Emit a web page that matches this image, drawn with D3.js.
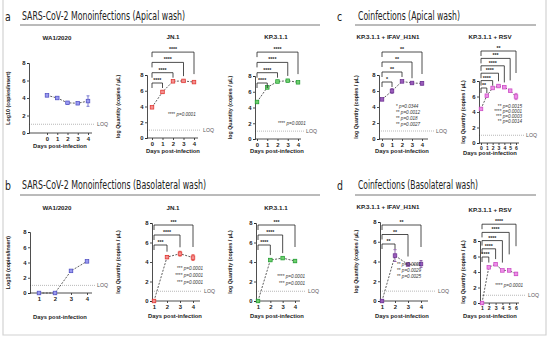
<!DOCTYPE html>
<html>
<head>
<meta charset="utf-8">
<script src="https://cdn.jsdelivr.net/npm/d3@7"></script>
<style>
  body { margin: 0; background: #fff; }
  svg { display: block; }
  .tick text { font-family: "Liberation Sans", Arial, sans-serif; font-weight: bold; fill: #222; }
</style>
</head>
<body>
<div id="chart"></div>
<script>
// ---- data ----
const daysA = [0, 1, 2, 3, 4];
const daysA6 = [0, 1, 2, 3, 4, 5, 6];
const daysB = [1, 2, 3, 4];
const daysB6 = [1, 2, 3, 4, 5, 6];
const yTicks = [0, 2, 4, 6, 8];
const loqValue = 1;

const wa1Apical = [4.3, 4.0, 3.45, 3.4, 3.65];
const wa1ApicalErr = [0.1, 0.1, 0.15, 0.1, 0.6];
const jn1Apical = [3.9, 5.85, 7.2, 7.25, 7.1];
const jn1ApicalErr = [0.1, 0.15, 0.1, 0.1, 0.1];
const kpApical = [4.7, 6.55, 7.3, 7.4, 7.2];
const kpApicalErr = [0.1, 0.1, 0.1, 0.1, 0.1];
const iavApical = [4.95, 6.0, 7.2, 7.0, 6.95];
const iavApicalErr = [0.1, 0.3, 0.1, 0.1, 0.2];
const rsvApical = [4.4, 6.1, 7.1, 7.35, 7.2, 6.75, 6.0];
const rsvApicalErr = [0.1, 0.15, 0.1, 0.1, 0.1, 0.15, 0.4];

const wa1Baso = [0, 0, 2.9, 4.15];
const wa1BasoErr = [0, 0, 0.1, 0.1];
const jn1Baso = [0, 4.5, 4.85, 4.45];
const jn1BasoErr = [0.1, 0.15, 0.25, 0.3];
const kpBaso = [0, 4.2, 4.4, 4.1];
const kpBasoErr = [0.1, 0.1, 0.1, 0.15];
const iavBaso = [0, 4.6, 3.7, 3.75];
const iavBasoErr = [0.1, 0.6, 0.1, 0.35];
const rsvBaso = [0, 4.6, 5.0, 4.2, 4.2, 3.75];
const rsvBasoErr = [0.1, 0.1, 0.15, 0.1, 0.1, 0.2];

// significance vs first day (one per later day)
const jn1ApicalSig = ["****", "****", "****", "****"];
const kpApicalSig = ["****", "****", "****", "****"];
const iavApicalSig = ["*", "**", "**", "**"];
const rsvApicalSig = ["**", "****", "****", "****", "***", "**"];
const jn1BasoSig = ["***", "****", "***"];
const kpBasoSig = ["****", "****", "***"];
const iavBasoSig = ["**", "**", "**"];
const rsvBasoSig = ["****", "****", "****", "****", "****"];

const jn1ApicalP = ["**** p=0.0001"];
const kpApicalP = ["**** p=0.0001"];
const iavApicalP = ["* p=0.0344", "** p=0.0012", "** p=0.018", "** p=0.0027"];
const rsvApicalP = ["** p=0.0015", "**** p=0.0001", "*** p=0.0003", "** p=0.0014"];
const jn1BasoP = ["*** p=0.0001", "**** p=0.0001", "*** p=0.0001"];
const kpBasoP = ["**** p=0.0001", "*** p=0.0001"];
const iavBasoP = ["** p=0.0001", "** p=0.0029", "** p=0.0025"];
const rsvBasoP = ["**** p=0.0001"];

const colors = {
  wa1: {fill: "#9a9af0", stroke: "#4b4bc0"},
  jn1: {fill: "#f39090", stroke: "#e0302a"},
  kp:  {fill: "#6fcf6f", stroke: "#1f9a2f"},
  iav: {fill: "#9a5cbc", stroke: "#6a2e8e"},
  rsv: {fill: "#ee8ee8", stroke: "#c846c0"}
};

const yLabWA = "Log10 (copies/insert)";
const yLabQ = "log Quantity (copies / \u00b5L)";

const panels = [
  {title: "WA1/2020", days: daysA, vals: wa1Apical, err: wa1ApicalErr, c: colors.wa1, ylab: yLabWA,
   ax: 29, axEnd: 92, y0: 133, y8: 63, xr: [47, 88], tx: 57, ty: 40, xlx: 60, xly: 148, ylx: 10, loqEnd: 95, loqX: 97,
   sig: [], p: []},
  {title: "JN.1", days: daysA, vals: jn1Apical, err: jn1ApicalErr, c: colors.jn1, ylab: yLabQ,
   ax: 147, axEnd: 198, y0: 138, y8: 75, xr: [152, 194], tx: 173, ty: 39, xlx: 173, xly: 153, ylx: 120, loqEnd: 201, loqX: 203,
   sig: jn1ApicalSig, bBot: 83, bStep: 10.3, p: jn1ApicalP, px: 168, py: 116, pdy: 6, pAnchor: "start"},
  {title: "KP.3.1.1", days: daysA, vals: kpApical, err: kpApicalErr, c: colors.kp, ylab: yLabQ,
   ax: 255, axEnd: 301, y0: 139, y8: 76, xr: [257, 298], tx: 276, ty: 39, xlx: 277, xly: 153, ylx: 232, loqEnd: 304, loqX: 306,
   sig: kpApicalSig, bBot: 83, bStep: 10.3, p: kpApicalP, px: 278, py: 125, pdy: 6, pAnchor: "start"},
  {title: "KP.3.1.1 + IFAV_H1N1", days: daysA, vals: iavApical, err: iavApicalErr, c: colors.iav, ylab: yLabQ,
   ax: 379, axEnd: 428, y0: 139, y8: 75, xr: [382, 422], tx: 388, ty: 39, xlx: 402, xly: 153, ylx: 358, loqEnd: 434, loqX: 436,
   sig: iavApicalSig, bBot: 82, bStep: 10, p: iavApicalP, px: 396, py: 108, pdy: 6, pAnchor: "start"},
  {title: "KP.3.1.1 + RSV", days: daysA6, vals: rsvApical, err: rsvApicalErr, c: colors.rsv, ylab: yLabQ,
   ax: 479, axEnd: 519, y0: 143, y8: 81, xr: [481, 516], tx: 490, ty: 39, xlx: 490, xly: 155, ylx: 465, loqEnd: 524, loqX: 526,
   sig: rsvApicalSig, bBot: 88, bStep: 7.4, p: rsvApicalP, px: 522, py: 108, pdy: 5, pAnchor: "end", xFont: 5},

  {title: "WA1/2020", days: daysB, vals: wa1Baso, err: wa1BasoErr, c: colors.wa1, ylab: yLabWA,
   ax: 30, axEnd: 92, y0: 293, y8: 232, xr: [39, 87], tx: 57, ty: 210, xlx: 60, xly: 319, ylx: 10, loqEnd: 95, loqX: 97,
   sig: [], p: []},
  {title: "JN.1", days: daysB, vals: jn1Baso, err: jn1BasoErr, c: colors.jn1, ylab: yLabQ,
   ax: 152, axEnd: 200, y0: 301, y8: 223, xr: [154, 193], tx: 173, ty: 210, xlx: 175, xly: 318, ylx: 120, loqEnd: 202, loqX: 204,
   sig: jn1BasoSig, bBot: 245, bStep: 10, p: jn1BasoP, px: 203, py: 270, pdy: 7, pAnchor: "end"},
  {title: "KP.3.1.1", days: daysB, vals: kpBaso, err: kpBasoErr, c: colors.kp, ylab: yLabQ,
   ax: 256, axEnd: 300, y0: 301, y8: 223, xr: [258, 295], tx: 276, ty: 210, xlx: 277, xly: 318, ylx: 232, loqEnd: 306, loqX: 308,
   sig: kpBasoSig, bBot: 245, bStep: 10, p: kpBasoP, px: 305, py: 278, pdy: 7, pAnchor: "end"},
  {title: "KP.3.1.1 + IFAV_H1N1", days: daysB, vals: iavBaso, err: iavBasoErr, c: colors.iav, ylab: yLabQ,
   ax: 380, axEnd: 428, y0: 301, y8: 222, xr: [382, 421], tx: 388, ty: 209, xlx: 402, xly: 318, ylx: 358, loqEnd: 436, loqX: 438,
   sig: iavBasoSig, bBot: 244, bStep: 9.5, p: iavBasoP, px: 397, py: 266, pdy: 6, pAnchor: "start"},
  {title: "KP.3.1.1 + RSV", days: daysB6, vals: rsvBaso, err: rsvBasoErr, c: colors.rsv, ylab: yLabQ,
   ax: 480, axEnd: 519, y0: 303, y8: 241, xr: [482, 516], tx: 490, ty: 212, xlx: 490, xly: 318, ylx: 465, loqEnd: 526, loqX: 528,
   sig: rsvBasoSig, bBot: 257, bStep: 8.2, p: rsvBasoP, px: 523, py: 287, pdy: 6, pAnchor: "end", xFont: 5.2}
];

const headers = [
  {letter: "a", text: "SARS-CoV-2 Monoinfections (Apical wash)", lx: 5, x: 22, y: 20, w: 163, ulx: [20, 320], uly: 25},
  {letter: "c", text: "Coinfections (Apical wash)", lx: 337, x: 358, y: 20, w: 102, ulx: [355, 536], uly: 25},
  {letter: "b", text: "SARS-CoV-2 Monoinfections (Basolateral wash)", lx: 5, x: 22, y: 189, w: 184, ulx: [20, 320], uly: 195},
  {letter: "d", text: "Coinfections (Basolateral wash)", lx: 337, x: 358, y: 189, w: 120, ulx: [355, 536], uly: 195}
];

const W = 550, H = 343;
const svg = d3.select("#chart").append("svg")
  .attr("width", W).attr("height", H)
  .attr("viewBox", [0, 0, W, H]);

// outer frame
svg.append("path")
  .attr("d", "M3,0 V335 H546 V0")
  .attr("fill", "none").attr("stroke", "#d2d2d2").attr("stroke-width", 1.2);

const narrow = "'DejaVu Sans Condensed', 'Liberation Sans Narrow', 'Roboto', sans-serif";
headers.forEach(h => {
  svg.append("text").attr("x", h.lx).attr("y", h.y + 1)
    .attr("font-family", narrow).attr("font-size", 13).attr("fill", "#222")
    .attr("transform", `translate(${h.lx},0) scale(0.8,1) translate(${-h.lx},0)`)
    .text(h.letter);
  svg.append("text").attr("x", h.x).attr("y", h.y)
    .attr("font-family", narrow).attr("font-size", 11.5).attr("fill", "#222")
    .attr("textLength", h.w).attr("lengthAdjust", "spacingAndGlyphs")
    .text(h.text);
  svg.append("line").attr("x1", h.ulx[0]).attr("x2", h.ulx[1]).attr("y1", h.uly).attr("y2", h.uly)
    .attr("stroke", "#666").attr("stroke-width", 0.9);
});

const sans = "'Liberation Sans', Arial, sans-serif";

panels.forEach(p => {
  const x = d3.scaleLinear().domain([p.days[0], p.days[p.days.length - 1]]).range(p.xr);
  const y = d3.scaleLinear().domain([0, 8]).range([p.y0, p.y8]);
  const g = svg.append("g");

  // title
  g.append("text").attr("x", p.tx).attr("y", p.ty).attr("text-anchor", "middle")
    .attr("font-family", sans).attr("font-weight", "bold").attr("font-size", 6.2).attr("fill", "#222")
    .text(p.title);

  // LOQ
  g.append("line").attr("x1", p.ax).attr("x2", p.loqEnd).attr("y1", y(loqValue)).attr("y2", y(loqValue))
    .attr("stroke", "#999").attr("stroke-width", 0.7).attr("stroke-dasharray", "1,1");
  g.append("text").attr("x", p.loqX).attr("y", y(loqValue) + 1.8)
    .attr("font-family", sans).attr("font-size", 5.2).attr("fill", "#555").text("LOQ");

  // axes
  const yAxis = g.append("g").attr("transform", `translate(${p.ax},0)`)
    .call(d3.axisLeft(y).tickValues(yTicks).tickSize(2).tickPadding(1.5).tickFormat(d3.format("d")));
  yAxis.selectAll("line, path").attr("stroke", "#222").attr("stroke-width", 0.8);
  yAxis.selectAll("text").style("font-size", "5.9px");
  const xAxis = g.append("g").attr("transform", `translate(0,${p.y0})`)
    .call(d3.axisBottom(x).tickValues(p.days).tickSize(2).tickPadding(1.5).tickFormat(d3.format("d")));
  xAxis.select(".domain").remove();
  xAxis.selectAll("line").attr("stroke", "#222").attr("stroke-width", 0.8);
  xAxis.selectAll("text").style("font-size", (p.xFont || 5.9) + "px");
  g.append("line").attr("x1", p.ax).attr("x2", p.axEnd).attr("y1", p.y0).attr("y2", p.y0)
    .attr("stroke", "#222").attr("stroke-width", 0.8);

  // axis labels
  g.append("text").attr("x", p.xlx).attr("y", p.xly).attr("text-anchor", "middle")
    .attr("font-family", sans).attr("font-weight", "bold").attr("font-size", 5.8).attr("fill", "#222")
    .text("Days post-infection");
  g.append("text").attr("transform", `translate(${p.ylx},${(p.y0 + p.y8) / 2}) rotate(-90)`)
    .attr("text-anchor", "middle")
    .attr("font-family", sans).attr("font-weight", "bold").attr("font-size", 5.3).attr("fill", "#222")
    .text(p.ylab);

  // data
  const pts = p.days.map((d, i) => ({d, v: p.vals[i], e: p.err[i]}));
  g.append("path").datum(pts)
    .attr("d", d3.line().x(d => x(d.d)).y(d => y(d.v)))
    .attr("fill", "none").attr("stroke", "#333").attr("stroke-width", 0.8).attr("stroke-dasharray", "2,1.4");
  const eb = g.selectAll(".eb").data(pts.filter(d => d.e > 0)).join("g").attr("stroke", p.c.stroke).attr("stroke-width", 0.7);
  eb.append("line").attr("x1", d => x(d.d)).attr("x2", d => x(d.d)).attr("y1", d => y(d.v - d.e)).attr("y2", d => y(d.v + d.e));
  eb.append("line").attr("x1", d => x(d.d) - 1.5).attr("x2", d => x(d.d) + 1.5).attr("y1", d => y(d.v + d.e)).attr("y2", d => y(d.v + d.e));
  eb.append("line").attr("x1", d => x(d.d) - 1.5).attr("x2", d => x(d.d) + 1.5).attr("y1", d => y(d.v - d.e)).attr("y2", d => y(d.v - d.e));
  g.selectAll(".pt").data(pts).join("rect")
    .attr("x", d => x(d.d) - 1.8).attr("y", d => y(d.v) - 1.8).attr("width", 3.6).attr("height", 3.6)
    .attr("fill", p.c.fill).attr("stroke", p.c.stroke).attr("stroke-width", 0.7);

  // significance brackets
  p.sig.forEach((lab, k) => {
    const by = p.bBot - k * p.bStep;
    const x1 = x(p.days[0]), x2 = x(p.days[k + 1]);
    const py = y(p.vals[k + 1] + p.err[k + 1]);
    const rEnd = Math.max(by + 5, Math.min(py - 4, by + 22));
    g.append("path").attr("d", `M${x1},${by + 5} V${by} H${x2} V${rEnd}`)
      .attr("fill", "none").attr("stroke", "#222").attr("stroke-width", 0.8);
    g.append("text").attr("x", (x1 + x2) / 2).attr("y", by - 1)
      .attr("text-anchor", "middle").attr("font-family", sans).attr("font-weight", "bold")
      .attr("font-size", 5.2).attr("fill", "#222").text(lab);
  });

  // p-value notes
  p.p.forEach((t, i) => {
    const parts = t.split(" ");
    const tx = g.append("text").attr("x", p.px).attr("y", p.py + i * p.pdy)
      .attr("text-anchor", p.pAnchor).attr("font-family", sans).attr("font-size", 4.6).attr("fill", "#333");
    tx.append("tspan").text(parts[0] + " ");
    tx.append("tspan").attr("font-style", "italic").text(parts[1]);
  });
});
</script>
</body>
</html>
